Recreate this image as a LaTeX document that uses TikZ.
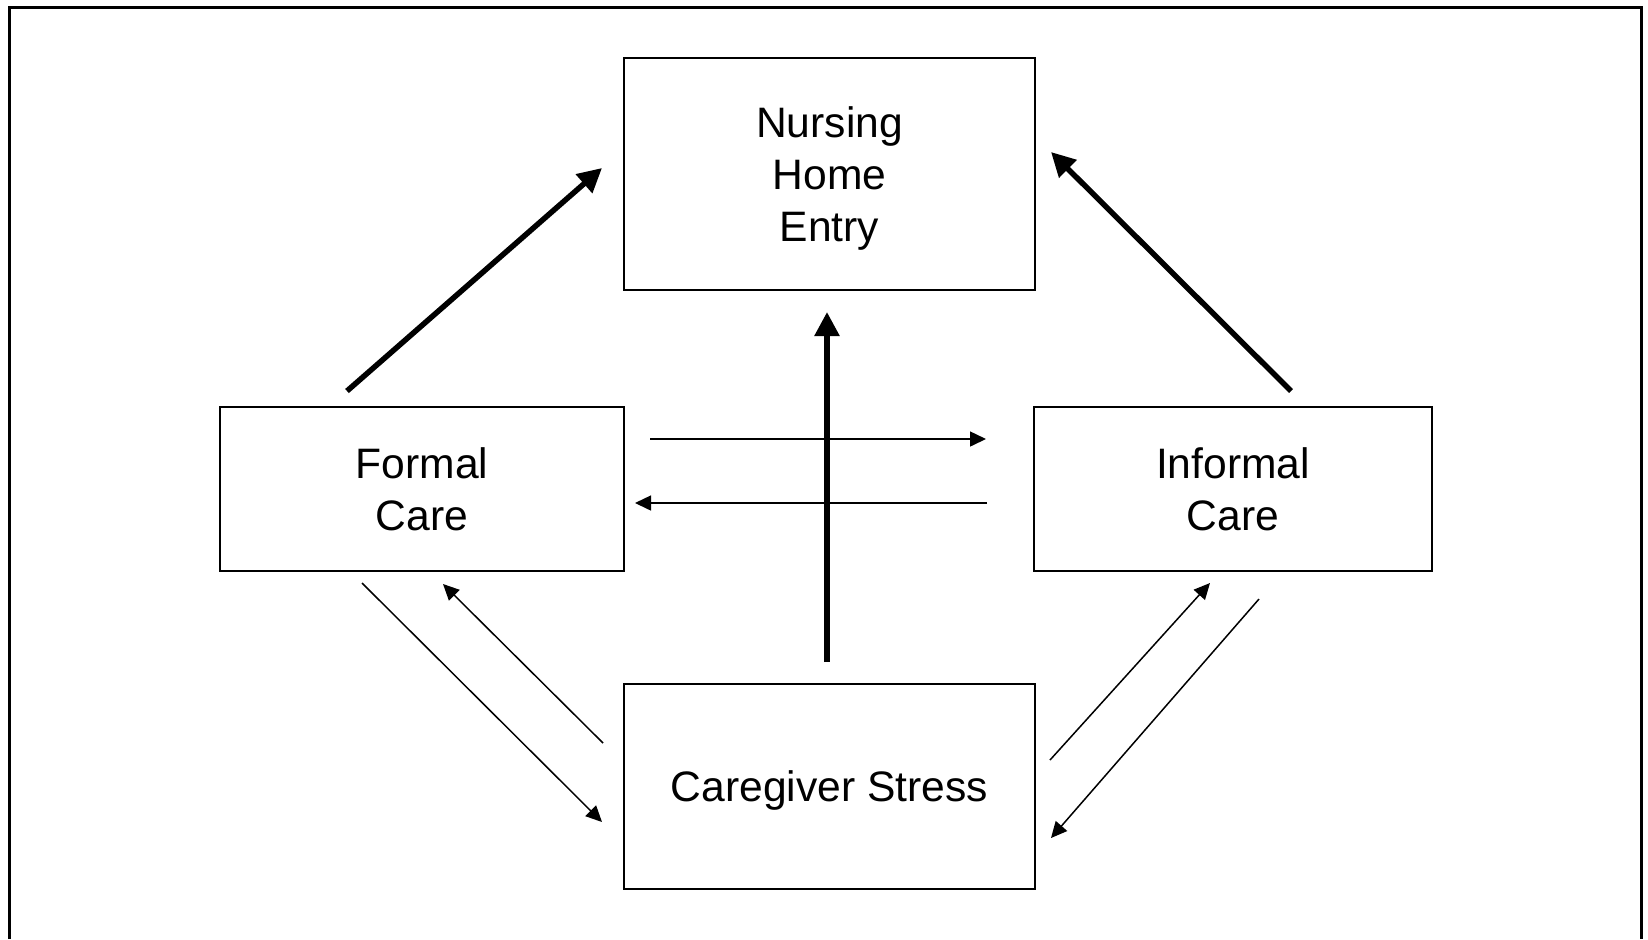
\documentclass[tikz,border=0pt]{standalone}
\usepackage{fontspec}
\setmainfont{Liberation Sans}
\usetikzlibrary{arrows.meta}
\begin{document}
\begin{tikzpicture}[x=0.5pt,y=-0.5pt,
  box/.style={draw,line width=1pt,align=center,font=\fontsize{21.3}{25.8}\selectfont,inner sep=0pt,text depth=0pt},
  bigarrow/.style={line width=2.75pt,-{Triangle[length=12pt,width=12pt]}},
  smallarrow/.style={line width=0.75pt,-{Triangle[length=8pt,width=7.5pt]}}]
\useasboundingbox (0,0) rectangle (1648,939);
\draw[line width=1.5pt] (9.5,939) -- (9.5,7.5) -- (1641,7.5) -- (1641,939);
\node[box,minimum width=205.5pt,minimum height=116pt] (nh) at (829.5,174) {Nursing\\Home\\Entry};
\node[box,minimum width=202pt,minimum height=82pt] (fc) at (422,489) {Formal\\Care};
\node[box,minimum width=199pt,minimum height=82pt] (ic) at (1233,489) {Informal\\Care};
\node[box,minimum width=205.5pt,minimum height=102.5pt] (cs) at (829.5,786.5) {Caregiver Stress};
% free ends of connectors
\coordinate (a1s) at (347,391);  \coordinate (a1e) at (602,168);
\coordinate (a2s) at (1291,391); \coordinate (a2e) at (1051,152);
\coordinate (a3s) at (827,662);  \coordinate (a3e) at (827,312);
\coordinate (h1s) at (650,439);  \coordinate (h1e) at (986,439);
\coordinate (h2s) at (987,503);  \coordinate (h2e) at (635,503);
\coordinate (d1s) at (362,583);  \coordinate (d1e) at (602,822);
\coordinate (d2s) at (603,743);  \coordinate (d2e) at (443,584);
\coordinate (d3s) at (1050,760); \coordinate (d3e) at (1210,583);
\coordinate (d4s) at (1259,599); \coordinate (d4e) at (1051,838);
\draw[bigarrow] (a1s) -- (a1e);
\draw[bigarrow] (a2s) -- (a2e);
\draw[bigarrow] (a3s) -- (a3e);
\draw[smallarrow] (h1s) -- (h1e);
\draw[smallarrow] (h2s) -- (h2e);
\draw[smallarrow] (d1s) -- (d1e);
\draw[smallarrow] (d2s) -- (d2e);
\draw[smallarrow] (d3s) -- (d3e);
\draw[smallarrow] (d4s) -- (d4e);
\end{tikzpicture}
\end{document}
